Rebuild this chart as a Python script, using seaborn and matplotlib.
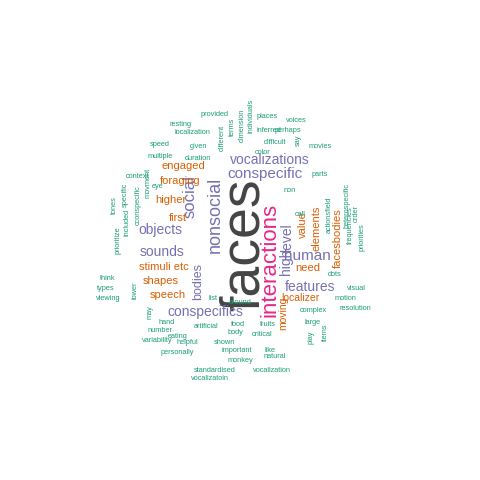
import matplotlib
matplotlib.use("Agg")
import matplotlib.pyplot as plt
import seaborn as sns

sns.set_style("white")
plt.rcParams['font.family'] = ['Liberation Sans', 'DejaVu Sans']

pal = sns.color_palette("Dark2")
colmap = {"k": "#444444", "m": pal[3], "p": pal[2], "o": pal[1], "g": pal[0]}

# word, weight (font size), colour group
words = ["faces", "interactions", "nonsocial", "social", "human", "conspecific",
         "vocalizations", "features", "conspecifics", "sounds", "objects", "level",
         "high", "bodies", "facesbodies", "value", "elements", "need", "localizer",
         "moving", "foraging", "engaged", "higher", "first", "stimuli etc", "shapes",
         "speech",
         "provided", "resting", "localization", "speed", "multiple", "given", "duration",
         "different", "terms", "dimension", "individuals", "places", "voices", "perhaps",
         "inferred", "difficult", "color", "say", "movies", "parts", "non", "actionsfield",
         "frequencies", "heterospecific", "order", "priorities", "call", "dots", "visual",
         "motion", "resolution", "complex", "large", "items", "play", "like", "natural",
         "critical", "body", "fruits", "food", "around", "list", "artificial", "eating",
         "shown", "helpful", "important", "monkey", "vocalization", "standardised",
         "vocalizatoin", "personally", "variability", "number", "hand", "may", "lower",
         "viewing", "types", "think", "prioritize", "tones", "included", "specific",
         "cconspecific", "movment", "context", "eye"]
sizes = [40, 16, 13, 12, 11, 11, 10, 10, 10, 10, 10, 10, 10, 9, 8, 8, 8, 8, 7.5,
         7.5, 8, 8, 8, 8, 8, 8, 8] + [5.3] * 70
groups = ["k", "m"] + ["p"] * 12 + ["o"] * 13 + ["g"] * 70

# layout of the cloud (x, y in pixels, rotation)
layout = [(245, 245, 90), (270, 260, 90), (215, 215, 90), (190, 197, 90), (307, 256, 0),
          (265, 174, 0), (270, 160, 0), (310, 287, 0), (205, 312, 0), (162, 252, 0),
          (160, 230, 0), (287, 238, 90), (286, 262, 90), (198, 281, 90), (338, 238, 90),
          (303, 225, 90), (317, 228, 90), (308, 268, 0), (300, 298, 0), (283, 313, 90),
          (180, 181, 0), (183, 166, 0), (171, 200, 0), (178, 218, 0), (164, 267, 0),
          (161, 281, 0), (168, 295, 0),
          (215, 114, 0), (180, 124, 0), (192, 133, 0), (160, 145, 0), (160, 157, 0),
          (198, 146, 0), (198, 158, 0), (222, 138, 90), (232, 127, 90), (242, 125, 90),
          (251, 116, 90), (267, 117, 0), (296, 121, 0), (288, 130, 0), (269, 130, 0),
          (275, 142, 0), (263, 152, 0), (298, 140, 90), (320, 147, 0), (320, 175, 0),
          (290, 191, 0), (329, 215, 90), (350, 225, 90), (347, 205, 90), (356, 213, 90),
          (362, 237, 90), (300, 215, 0), (335, 275, 0), (356, 288, 0), (345, 298, 0),
          (355, 308, 0), (313, 310, 0), (313, 322, 0), (325, 332, 90), (311, 337, 90),
          (270, 350, 0), (275, 357, 0), (262, 334, 0), (235, 333, 0), (268, 325, 0),
          (238, 324, 0), (240, 302, 0), (213, 298, 0), (206, 327, 0), (178, 337, 0),
          (224, 343, 0), (187, 343, 0), (237, 351, 0), (240, 360, 0), (272, 370, 0),
          (215, 370, 0), (210, 379, 0), (177, 353, 0), (157, 340, 0), (160, 330, 0),
          (167, 323, 0), (150, 312, 90), (135, 290, 90), (108, 298, 0), (106, 288, 0),
          (108, 278, 0), (118, 240, 90), (114, 205, 90), (127, 222, 90), (125, 195, 90),
          (138, 205, 90), (148, 183, 90), (137, 177, 0), (158, 186, 0)]

fig, ax = plt.subplots(figsize=(4.8, 4.8), dpi=100)
fig.subplots_adjust(0, 0, 1, 1)
ax.set_xlim(0, 480)
ax.set_ylim(480, 0)
ax.axis("off")
for w, s, g, (x, y, r) in zip(words, sizes, groups, layout):
    ax.text(x, y, w, fontsize=s, color=colmap[g], rotation=r,
            ha="center", va="center")
fig.savefig("out.png", dpi=100)
